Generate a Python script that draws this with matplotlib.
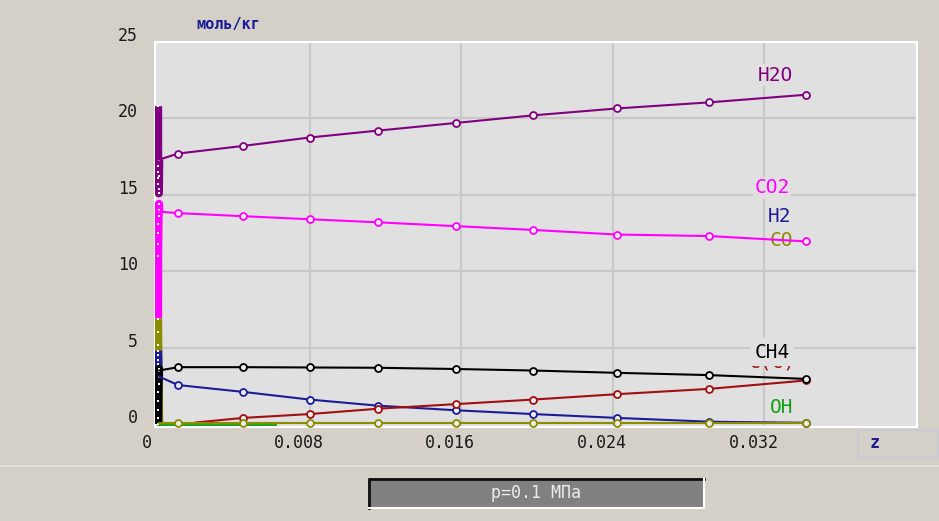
import matplotlib
matplotlib.use('Agg')
import matplotlib.pyplot as plt
from matplotlib.patches import Rectangle

# initial transient (very small z) - vertical column at z ~ 0
z_early = [0, 0.000005, 0.00001, 0.000015, 0.00002, 0.00003, 0.00004, 0.00005, 0.00006]
h2o_early = [20.8, 16.9, 16.5, 16.1, 15.7, 15.4, 15.1, 16.2, 17.3]
co2_early = [6.9, 11.0, 11.8, 12.5, 13.1, 13.6, 14.0, 14.4, 13.9]
co_early = [6.9, 6.0, 5.2, 4.4, 3.6, 2.6, 1.6, 0.6, 0.05]
h2_early = [4.8, 4.5, 4.2, 3.9, 3.6, 3.4, 3.3, 3.2, 3.1]
ch4_early = [0.0, 0.4, 0.9, 1.5, 2.1, 2.6, 3.1, 3.6, 3.5]

# main profile
z_main = [0.00106, 0.0045, 0.0080, 0.0116, 0.0157, 0.0198, 0.0242, 0.0291, 0.0342]
h2o = [17.7, 18.2, 18.75, 19.2, 19.7, 20.2, 20.65, 21.05, 21.55]
co2 = [13.8, 13.6, 13.4, 13.2, 12.95, 12.7, 12.4, 12.3, 11.95]
h2 = [2.55, 2.1, 1.6, 1.2, 0.9, 0.65, 0.4, 0.15, 0.08]
co = [0.05, 0.05, 0.05, 0.05, 0.05, 0.05, 0.05, 0.05, 0.05]
ch4 = [3.72, 3.72, 3.7, 3.68, 3.6, 3.5, 3.35, 3.2, 2.95]

z_cs = [0.0020, 0.0045, 0.0080, 0.0116, 0.0157, 0.0198, 0.0242, 0.0291, 0.0342]
cs = [0.1, 0.4, 0.65, 1.0, 1.3, 1.6, 1.95, 2.3, 2.85]

z_oh = [0, 0.00106, 0.0045, 0.0062]
oh = [-0.05, -0.05, -0.05, -0.05]

xticks = [0, 0.008, 0.016, 0.024, 0.032]
xtick_labels = ['0', '0.008', '0.016', '0.024', '0.032']
yticks = [0, 5, 10, 15, 20, 25]

c_h2o = '#800080'
c_co2 = '#ff00ff'
c_h2 = '#1c1c96'
c_co = '#8c8c00'
c_ch4 = '#000000'
c_cs = '#a01010'
c_oh = '#10a010'

bg = '#d4d0c8'
plot_bg = '#e0e0e0'
mono = 'DejaVu Sans Mono'

fig = plt.figure(figsize=(9.39, 5.21), dpi=100, facecolor=bg)

# pixel-space overlay for panel decorations
deco = fig.add_axes([0, 0, 1, 1], zorder=0)
deco.set_xlim(0, 939)
deco.set_ylim(521, 0)
deco.axis('off')
deco.add_patch(Rectangle((858, 430), 80, 27, fill=False, edgecolor='#c6c6d8', lw=1))
deco.plot([0, 939], [466, 466], color='#e4e1db', lw=1.2)
deco.add_patch(Rectangle((368, 478), 336, 30, facecolor='#808080', edgecolor='none'))
deco.plot([369, 369, 704], [508, 479, 479], color='#101010', lw=2)
deco.plot([369, 704, 704], [508, 508, 479], color='#ffffff', lw=1.5)
deco.text(536, 493, 'p=0.1 МПа', color='#ececec', fontsize=12, family=mono,
          ha='center', va='center')
deco.text(228, 25, 'моль/кг', color='#1c1c96', fontsize=11, family=mono,
          fontweight='bold', ha='center', va='center')
deco.text(875, 443, 'z', color='#1c1c96', fontsize=12, family=mono,
          fontweight='bold', ha='center', va='center')

ax = fig.add_axes([155 / 939, 94 / 521, 762 / 939, 385 / 521], zorder=1)
ax.set_facecolor(plot_bg)
ax.set_xlim(-0.000158, 0.04005)
ax.set_ylim(-0.196, 25)
for s in ax.spines.values():
    s.set_color('white')
    s.set_linewidth(1.5)

ax.set_xticks(xticks[1:])
ax.set_yticks(yticks[1:-1])
ax.tick_params(length=0, labelbottom=False, labelleft=False)
ax.grid(True, color='#c8c8c8', lw=1.6)
ax.set_axisbelow(True)

for t, lab in zip(xticks, xtick_labels):
    ax.annotate(lab, xy=(t, 0), xycoords=('data', 'axes fraction'),
                xytext=(-11, -16), textcoords='offset pixels',
                ha='center', va='center', fontsize=12, family=mono, color='#1a1a1a',
                annotation_clip=False)
for t in yticks:
    ax.annotate(str(t), xy=(0, t), xycoords=('axes fraction', 'data'),
                xytext=(-17, 6), textcoords='offset pixels',
                ha='right', va='center', fontsize=12, family=mono, color='#1a1a1a',
                annotation_clip=False)

# OH (drawn first, lies at the bottom)
ax.plot(z_oh, oh, color=c_oh, lw=2, zorder=2)

# early transient column
col_kw = dict(lw=6, solid_capstyle='butt', marker='s', ms=1.6, mew=0, mfc='white', zorder=3)
ax.plot(z_early, h2o_early, color=c_h2o, **col_kw)
ax.plot(z_early, co2_early, color=c_co2, **col_kw)
ax.plot(z_early, co_early, color=c_co, **col_kw)
ax.plot(z_early, h2_early, color=c_h2, **col_kw)
ax.plot(z_early, ch4_early, color=c_ch4, **col_kw)

# main lines
mk = dict(marker='o', ms=5, mew=1.3, mfc='#ececec', lw=1.5, zorder=4)
ax.plot([z_early[-1]] + z_main, [h2o_early[-1]] + h2o, color=c_h2o, markevery=list(range(1, 10)), **mk)
ax.plot([z_early[-1]] + z_main, [co2_early[-1]] + co2, color=c_co2, markevery=list(range(1, 10)), **mk)
ax.plot([z_early[-1]] + z_main, [h2_early[-1]] + h2, color=c_h2, markevery=list(range(1, 10)), **mk)
ax.plot(z_cs, cs, color=c_cs, markevery=list(range(1, 9)), **mk)
ax.plot([z_early[-1]] + z_main, [ch4_early[-1]] + ch4, color=c_ch4, markevery=list(range(1, 10)), **mk)
ax.plot([z_early[-1]] + z_main, [co_early[-1]] + co, color=c_co, markevery=list(range(1, 10)), **mk)

# species labels
lab_kw = dict(fontsize=14, family=mono, ha='center', va='center', zorder=1.5,
              bbox=dict(facecolor=plot_bg, edgecolor='none', pad=1))
ax.text(0.03256, 22.84, 'H2O', color=c_h2o, **lab_kw)
ax.text(0.0324, 15.45, 'CO2', color=c_co2, **lab_kw)
ax.text(0.0328, 13.55, 'H2', color=c_h2, **lab_kw)
ax.text(0.0329, 11.98, 'CO', color=c_co, **lab_kw)
ax.text(0.0324, 4.05, 'C(c)', color=c_cs, fontsize=14, family=mono, ha='center',
        va='center', zorder=1.4)
ax.text(0.0324, 4.71, 'CH4', color=c_ch4, fontsize=14, family=mono, ha='center',
        va='center', zorder=1.5, bbox=dict(facecolor=plot_bg, edgecolor='none', pad=3))
ax.text(0.0329, 1.05, 'OH', color=c_oh, **lab_kw)

fig.savefig('out.png', dpi=100, facecolor=bg)
